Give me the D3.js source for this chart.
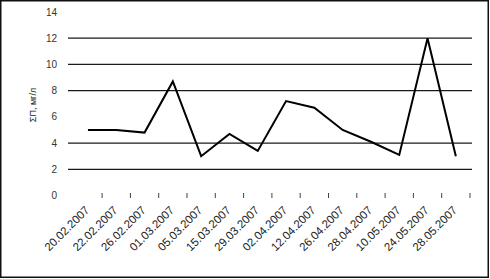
<!DOCTYPE html>
<html>
<head>
<meta charset="utf-8">
<script src="https://cdn.jsdelivr.net/npm/d3@7"></script>
<style>
  body { margin: 0; background: #fff; }
  svg { display: block; font-family: "Liberation Sans", Arial, sans-serif; }
</style>
</head>
<body>
<script>
// data
var dates = ["20.02.2007", "22.02.2007", "26.02.2007", "01.03.2007", "05.03.2007",
             "15.03.2007", "29.03.2007", "02.04.2007", "12.04.2007", "26.04.2007",
             "28.04.2007", "10.05.2007", "24.05.2007", "28.05.2007"];
var values = [5.0, 5.0, 4.8, 8.7, 3.0, 4.7, 3.4, 7.2, 6.7, 5.0, 4.1, 3.1, 12.0, 3.0];
var yTicks = [0, 2, 4, 6, 8, 10, 12, 14];
var gridValues = [2, 4, 8, 10, 12];
var yTitle = "ΣП, мг/л";

var width = 490, height = 279;

var svg = d3.select("body").append("svg")
    .attr("width", width)
    .attr("height", height);

// outer frame
svg.append("rect")
    .attr("x", 0.75).attr("y", 0.75)
    .attr("width", 487.5).attr("height", 276.5)
    .attr("fill", "none")
    .attr("stroke", "#111")
    .attr("stroke-width", 1.5);

var x = d3.scaleBand().domain(dates).range([73.8, 470]);
var y = d3.scaleLinear().domain([0, 14]).range([195.5, 12]);

// gridlines
svg.append("g").selectAll("line")
    .data(gridValues)
    .enter().append("line")
    .attr("x1", 68).attr("x2", 472)
    .attr("y1", d => y(d)).attr("y2", d => y(d))
    .attr("stroke", "#1a1a1a")
    .attr("stroke-width", 1.3);

// y axis labels (no axis line)
svg.append("g").selectAll("text")
    .data(yTicks)
    .enter().append("text")
    .attr("x", 57)
    .attr("y", d => y(d) + 3.5)
    .attr("text-anchor", "end")
    .attr("font-size", 10)
    .attr("fill", "#333")
    .text(d => d);

svg.append("text")
    .attr("transform", "translate(36,105) rotate(-90)")
    .attr("text-anchor", "middle")
    .attr("font-size", 9)
    .attr("fill", "#222")
    .text(yTitle);

// x ticks at the category boundaries
var bounds = dates.map(d => x(d) + x.bandwidth());
svg.append("g").selectAll("line")
    .data(bounds)
    .enter().append("line")
    .attr("x1", d => d).attr("x2", d => d)
    .attr("y1", 193).attr("y2", 198)
    .attr("stroke", "#444")
    .attr("stroke-width", 1);

// rotated date labels
svg.append("g").selectAll("text")
    .data(dates)
    .enter().append("text")
    .attr("transform", d => "translate(" + (x(d) + x.bandwidth() / 2 + 2) + ",211) rotate(-45)")
    .attr("text-anchor", "end")
    .attr("font-size", 11.5)
    .attr("fill", "#222")
    .text(d => d);

// the series line
var line = d3.line()
    .x((d, i) => x(dates[i]) + x.bandwidth() / 2)
    .y(d => y(d));

svg.append("path")
    .datum(values)
    .attr("d", line)
    .attr("fill", "none")
    .attr("stroke", "#000")
    .attr("stroke-width", 2)
    .attr("stroke-linejoin", "miter");
</script>
</body>
</html>
